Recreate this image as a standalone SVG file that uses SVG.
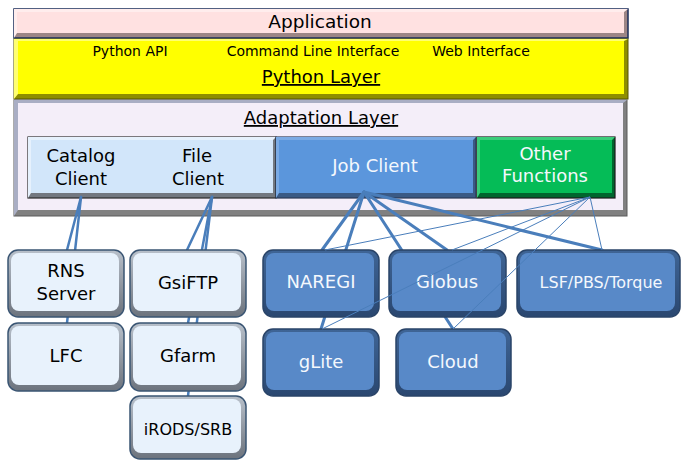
<svg xmlns="http://www.w3.org/2000/svg" width="681" height="461" viewBox="0 0 681 461">
<defs>
<linearGradient id="gLight" x1="0" y1="0" x2="0" y2="1"><stop offset="0" stop-color="#B8C0CA"/><stop offset="1" stop-color="#6C737D"/></linearGradient>
<linearGradient id="gBlue" x1="0" y1="0" x2="0" y2="1"><stop offset="0" stop-color="#3F6596"/><stop offset="1" stop-color="#2A4770"/></linearGradient>
<style>
text{font-family:"DejaVu Sans","Liberation Sans",sans-serif;text-anchor:middle}
.t18{font-size:18px;fill:#000}
.t14{font-size:14px;fill:#000}
.w18{font-size:18px;fill:#F4F8FD}
.w16{font-size:16px;fill:#F4F8FD}
.b16{font-size:16px;fill:#000}
.u{text-decoration:underline}
.thick{stroke:#4A7EBB;stroke-width:3;fill:none;stroke-linecap:round}
.mid{stroke:#4A7EBB;stroke-width:2.5;fill:none;stroke-linecap:round}
.thin{stroke:#4A7EBB;stroke-width:1;fill:none}
.lo{fill:url(#gLight);stroke:#3A5573;stroke-width:1.5}
.li{fill:#E8F2FC}
.bo{fill:url(#gBlue);stroke:#2A4468;stroke-width:1.5}
.bi{fill:#5889C8}
</style>
</defs>

<g id="application">
<rect x="14" y="9" width="614" height="29" fill="#9C8585" stroke="#1A2D5A" stroke-width="1.5"/>
<polygon points="14,9 628,9 624,12 17,12 17,33 14,38" fill="#FFEDED"/>
<rect x="17" y="12" width="607" height="21" fill="#FFE1E1"/>
<text class="t18" x="320" y="28" style="font-size:18.5px">Application</text>
</g>

<g id="python-layer">
<rect x="14" y="39" width="614" height="60" fill="#8E8E00" stroke="#555500" stroke-width="1"/>
<polygon points="14,39 628,39 624,41 18,41 18,94 14,99" fill="#FFFF70"/>
<rect x="18" y="41" width="606" height="53" fill="#FFFF00"/>
<text class="t14" x="130" y="56">Python API</text>
<text class="t14" x="313" y="56">Command Line Interface</text>
<text class="t14" x="481" y="56">Web Interface</text>
<text class="t18 u" x="321" y="83">Python Layer</text>
</g>

<g id="adaptation-layer">
<rect x="14" y="100" width="613" height="116" fill="#808080" stroke="#5A5A5A" stroke-width="1"/>
<polygon points="14,100 627,100 623,103 18,103 18,210 14,216" fill="#A9AEC4"/>
<rect x="18" y="103" width="605" height="107" fill="#F4EEF9"/>
<text class="t18 u" x="321" y="124">Adaptation Layer</text>
</g>

<g id="catalog-file-client">
<rect x="28" y="137" width="248" height="61" fill="#737880" stroke="#2B2B2B" stroke-width="1.2"/>
<polygon points="28,137 276,137 273,140 31,140 31,193 28,198" fill="#E6F1FD"/>
<rect x="31" y="140" width="242" height="53" fill="#D2E6FA"/>
<text class="t18" x="81" y="162">Catalog</text>
<text class="t18" x="81" y="185">Client</text>
<text class="t18" x="197" y="162">File</text>
<text class="t18" x="198" y="185">Client</text>
</g>

<g id="job-client">
<rect x="276" y="137" width="200" height="61" fill="#3A5A85" stroke="#2B3A55" stroke-width="1.2"/>
<polygon points="276,137 476,137 473,140 279,140 279,193 276,198" fill="#7AAAE4"/>
<rect x="279" y="140" width="194" height="53" fill="#5B96DC"/>
<text class="w18" x="375" y="172">Job Client</text>
</g>

<g id="other-functions">
<rect x="477" y="137" width="138" height="61" fill="#00652E" stroke="#1A1A1A" stroke-width="1.2"/>
<polygon points="477,137 615,137 612,140 480,140 480,193 477,198" fill="#3ACC7A"/>
<rect x="480" y="140" width="132" height="53" fill="#05BC57"/>
<text class="w18" x="545" y="160">Other</text>
<text class="w18" x="545" y="182">Functions</text>
</g>

<g id="connectors">
<line class="mid" x1="81" y1="197" x2="67" y2="250"/>
<line class="mid" x1="81" y1="197" x2="67" y2="323"/>
<line class="mid" x1="212" y1="197" x2="187" y2="250"/>
<line class="mid" x1="212" y1="197" x2="188" y2="323"/>
<line class="mid" x1="212" y1="197" x2="188" y2="396"/>
<line class="thick" x1="364" y1="192" x2="322" y2="250"/>
<line class="thick" x1="364" y1="192" x2="321" y2="329"/>
<line class="thick" x1="364" y1="192" x2="447" y2="250"/>
<line class="thick" x1="364" y1="192" x2="453" y2="329"/>
<line class="thick" x1="364" y1="192" x2="602" y2="250"/>
</g>

<g id="rns-server">
<rect class="lo" x="8" y="250" width="116" height="67" rx="10"/>
<rect class="li" x="11" y="253" width="108" height="58" rx="8"/>
<text class="t18" x="66" y="277">RNS</text>
<text class="t18" x="66" y="300">Server</text>
</g>
<g id="lfc">
<rect class="lo" x="8" y="323" width="116" height="68" rx="10"/>
<rect class="li" x="11" y="326" width="108" height="59" rx="8"/>
<text class="t18" x="66" y="362">LFC</text>
</g>
<g id="gsiftp">
<rect class="lo" x="130" y="250" width="116" height="67" rx="10"/>
<rect class="li" x="133" y="253" width="108" height="58" rx="8"/>
<text class="t18" x="188" y="289">GsiFTP</text>
</g>
<g id="gfarm">
<rect class="lo" x="130" y="323" width="116" height="68" rx="10"/>
<rect class="li" x="133" y="326" width="108" height="59" rx="8"/>
<text class="t18" x="188" y="362">Gfarm</text>
</g>
<g id="irods-srb">
<rect class="lo" x="130" y="396" width="116" height="63" rx="10"/>
<rect class="li" x="133" y="399" width="108" height="54" rx="8"/>
<text class="b16" x="188" y="435">iRODS/SRB</text>
</g>

<g id="naregi">
<rect class="bo" x="263" y="250" width="116" height="67" rx="10"/>
<rect class="bi" x="266" y="253" width="108" height="58" rx="8"/>
<text class="w18" x="321" y="288">NAREGI</text>
</g>
<g id="globus">
<rect class="bo" x="389" y="250" width="117" height="67" rx="10"/>
<rect class="bi" x="392" y="253" width="109" height="58" rx="8"/>
<text class="w18" x="447" y="288">Globus</text>
</g>
<g id="lsf-pbs-torque">
<rect class="bo" x="517" y="250" width="163" height="67" rx="10"/>
<rect class="bi" x="520" y="253" width="155" height="58" rx="8"/>
<text class="w16" x="601" y="288">LSF/PBS/Torque</text>
</g>
<g id="glite">
<rect class="bo" x="263" y="329" width="116" height="67" rx="10"/>
<rect class="bi" x="266" y="332" width="108" height="58" rx="8"/>
<text class="w18" x="321" y="368">gLite</text>
</g>
<g id="cloud">
<rect class="bo" x="396" y="329" width="115" height="67" rx="10"/>
<rect class="bi" x="399" y="332" width="107" height="58" rx="8"/>
<text class="w18" x="453" y="368">Cloud</text>
</g>

<g id="connectors-other">
<line class="thin" x1="590" y1="197" x2="325" y2="250"/>
<line class="thin" x1="590" y1="197" x2="452" y2="250"/>
<line class="thin" x1="590" y1="197" x2="322" y2="329"/>
<line class="thin" x1="590" y1="197" x2="453" y2="329"/>
<line class="thin" x1="590" y1="197" x2="602" y2="250"/>
</g>
</svg>
